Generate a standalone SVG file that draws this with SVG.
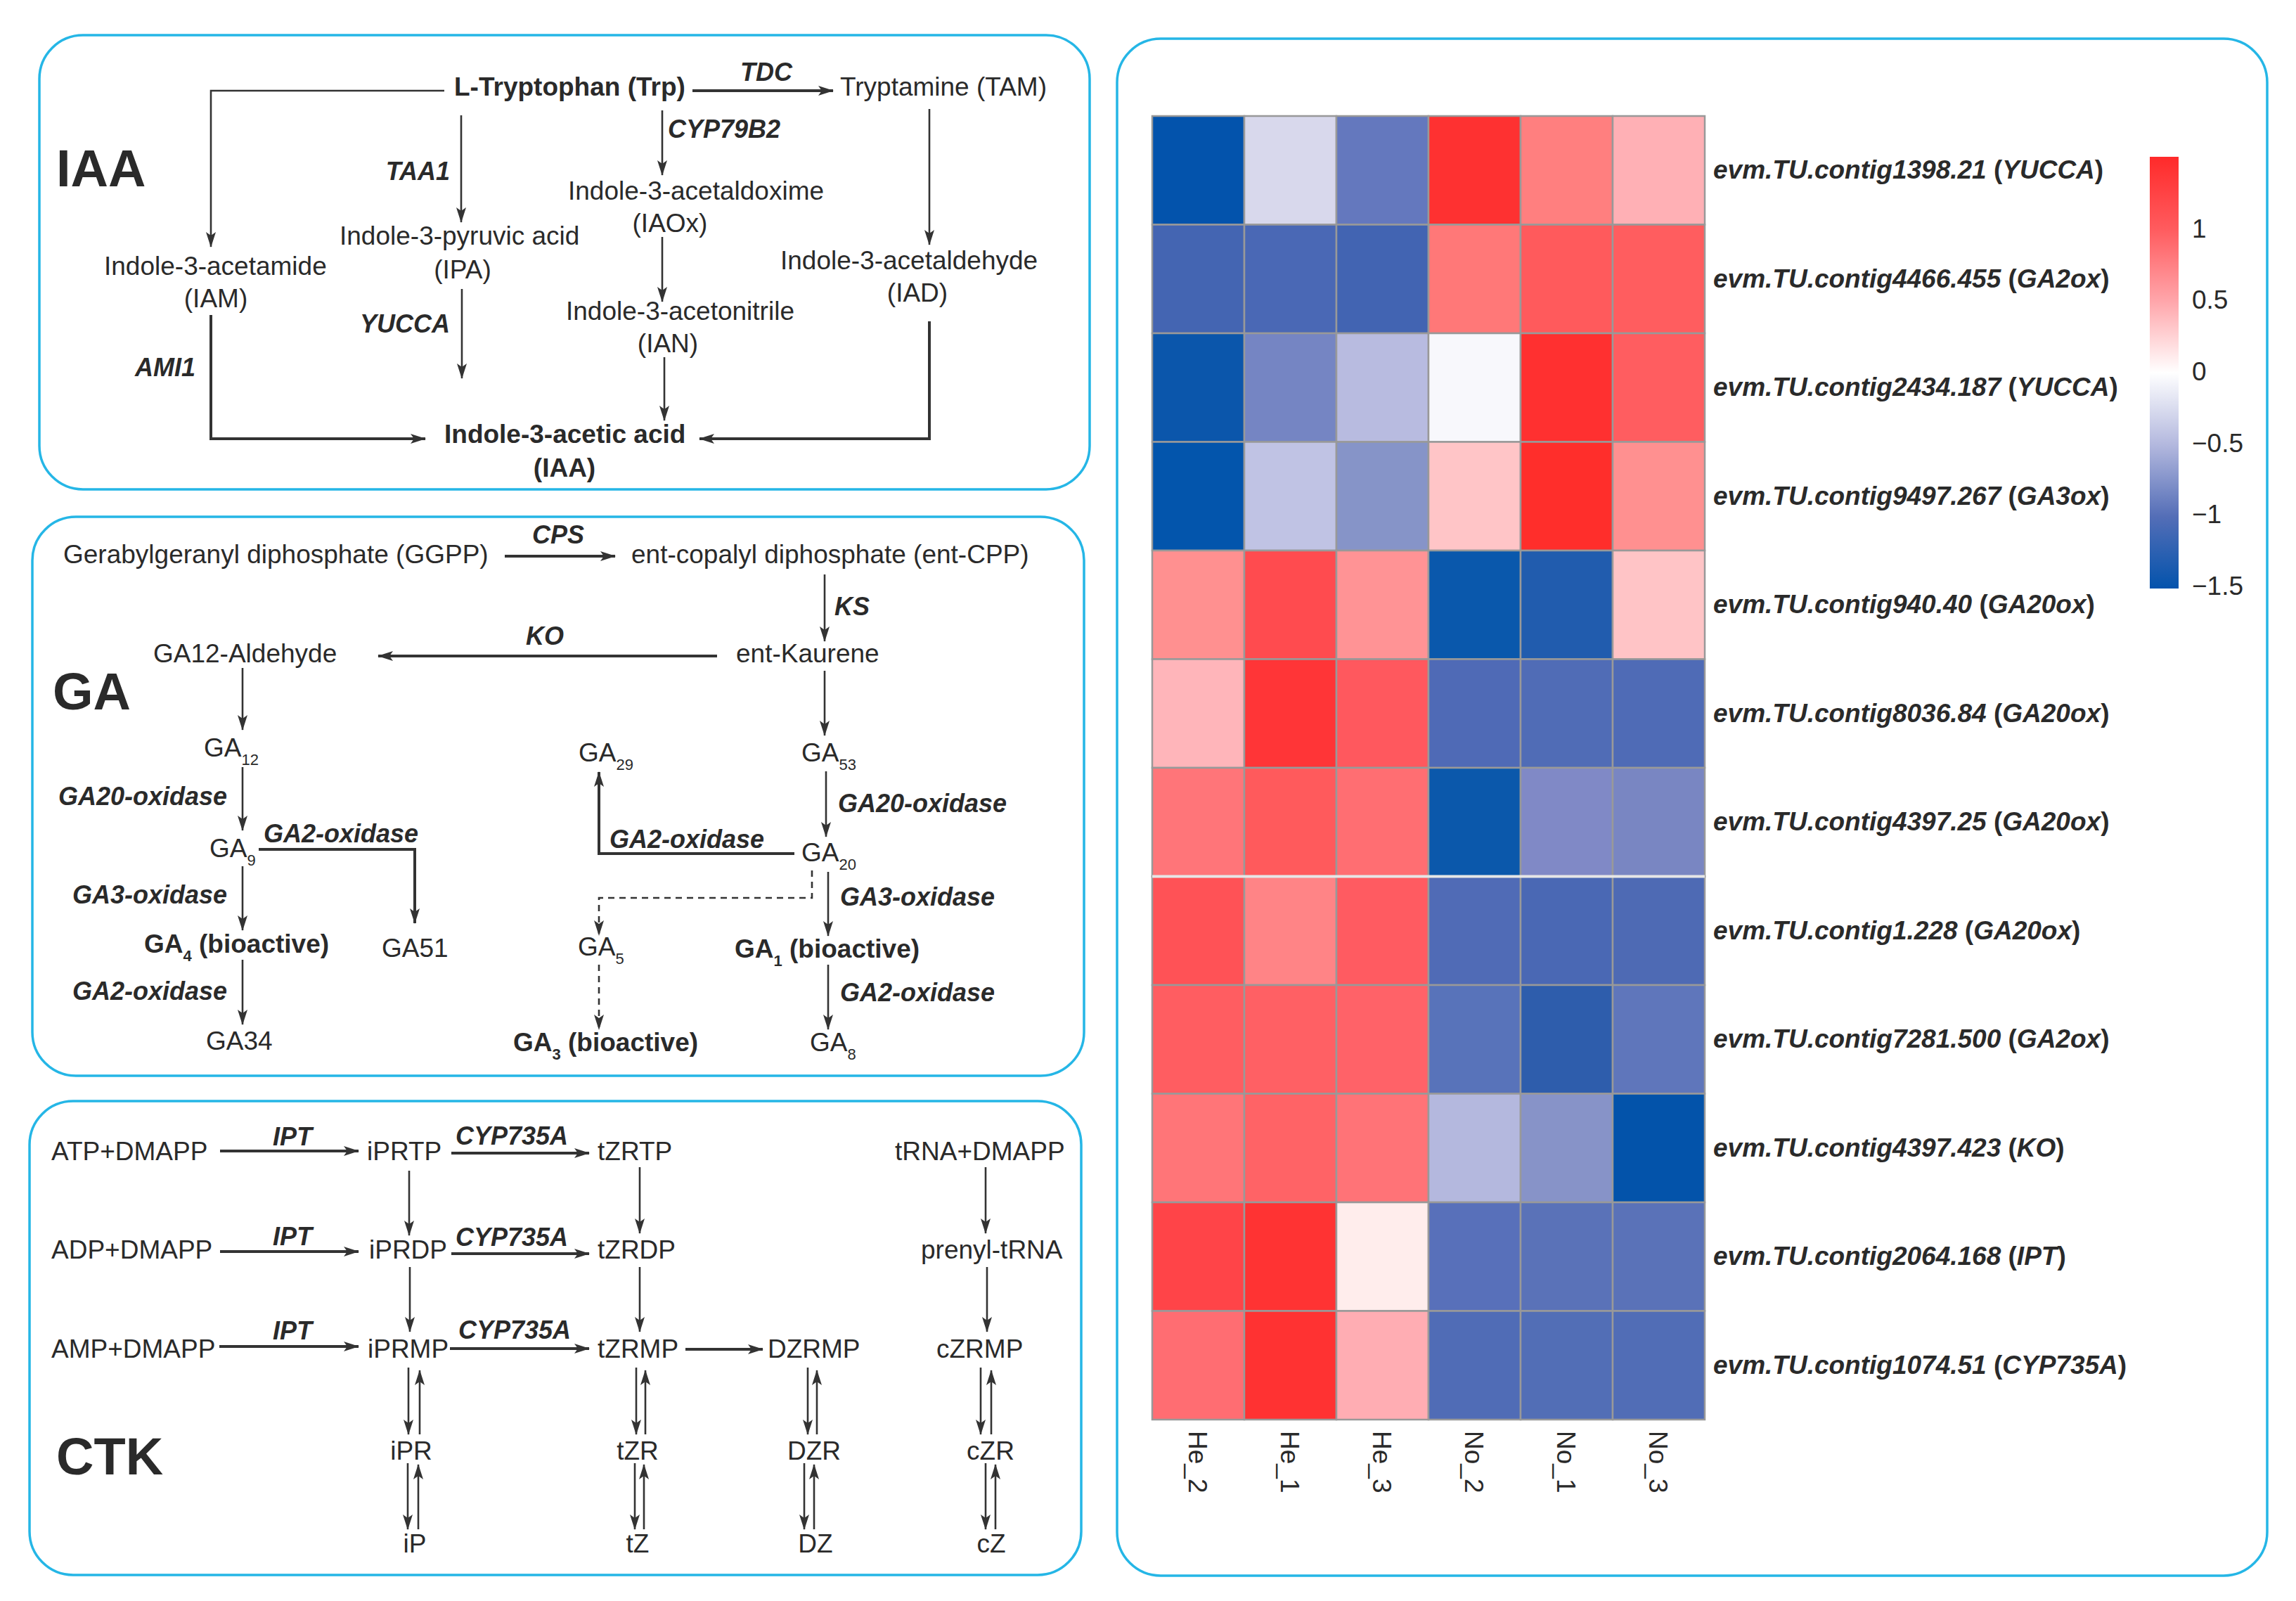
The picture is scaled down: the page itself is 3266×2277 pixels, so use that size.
<svg xmlns="http://www.w3.org/2000/svg" width="3266" height="2277" viewBox="0 0 3266 2277">
<style>
.t{font-family:"Liberation Sans",Arial,sans-serif;font-size:37px;fill:#2a2a2a}
.b{font-weight:bold}
.e{font-weight:bold;font-style:italic;font-size:36px}
.big{font-weight:bold;font-size:74px}
.s{font-size:22px}
.ln{stroke:#333;stroke-width:2.6;fill:none}
.th{stroke-width:4}
.dash{stroke-dasharray:9 7}
.panel{fill:#fff;stroke:#25b6e6;stroke-width:3.5}
.cell{stroke:#999;stroke-width:2.5}
.mid{text-anchor:middle}
.end{text-anchor:end}
.rl{font-family:"Liberation Sans",Arial,sans-serif;font-size:37px;font-weight:bold;font-style:italic;fill:#2a2a2a}
</style>
<defs>
<marker id="ah" markerUnits="userSpaceOnUse" markerWidth="22" markerHeight="14" refX="21" refY="7" orient="auto"><path d="M0,0 L22,7 L0,14 L5,7 z" fill="#333"/></marker>
<linearGradient id="cb" x1="0" y1="0" x2="0" y2="1">
<stop offset="0" stop-color="#ff2a2a"/>
<stop offset="0.167" stop-color="#ff5b5e"/>
<stop offset="0.333" stop-color="#ffa5aa"/>
<stop offset="0.5" stop-color="#ffffff"/>
<stop offset="0.667" stop-color="#b3b8de"/>
<stop offset="0.833" stop-color="#546eb7"/>
<stop offset="1" stop-color="#0353ac"/>
</linearGradient>
</defs>
<rect width="3266" height="2277" fill="#fff"/>

<!-- Panels -->
<g id="panel-iaa"><rect class="panel" x="56" y="50" width="1494" height="646" rx="62"/><text class="t big" x="80" y="265">IAA</text></g>
<g id="panel-ga"><rect class="panel" x="46" y="735" width="1496" height="795" rx="62"/><text class="t big" x="75" y="1009">GA</text></g>
<g id="panel-ctk"><rect class="panel" x="42" y="1566" width="1496" height="674" rx="62"/><text class="t big" x="80" y="2097">CTK</text></g>
<g id="panel-heatmap"><rect class="panel" x="1589" y="55" width="1636" height="2186" rx="62"/></g>

<!-- IAA nodes -->
<g id="iaa-trp"><text class="t b" x="646" y="136">L-Tryptophan (Trp)</text></g>
<g id="iaa-tam"><text class="t" x="1195" y="136">Tryptamine (TAM)</text></g>
<g id="iaa-iam"><text class="t" x="148" y="391">Indole-3-acetamide</text><text class="t mid" x="307" y="437">(IAM)</text></g>
<g id="iaa-ipa"><text class="t" x="483" y="348">Indole-3-pyruvic acid</text><text class="t mid" x="658" y="396">(IPA)</text></g>
<g id="iaa-iaox"><text class="t" x="808" y="284">Indole-3-acetaldoxime</text><text class="t mid" x="953" y="330">(IAOx)</text></g>
<g id="iaa-ian"><text class="t" x="805" y="455">Indole-3-acetonitrile</text><text class="t mid" x="950" y="501">(IAN)</text></g>
<g id="iaa-iad"><text class="t" x="1110" y="383">Indole-3-acetaldehyde</text><text class="t mid" x="1305" y="429">(IAD)</text></g>
<g id="iaa-iaa"><text class="t b" x="632" y="630">Indole-3-acetic acid</text><text class="t b mid" x="803" y="678">(IAA)</text></g>

<!-- GA nodes -->
<g id="ga-ggpp"><text class="t" x="90" y="801">Gerabylgeranyl diphosphate (GGPP)</text></g>
<g id="ga-cpp"><text class="t" x="898" y="801">ent-copalyl diphosphate (ent-CPP)</text></g>
<g id="ga-kaurene"><text class="t" x="1047" y="942">ent-Kaurene</text></g>
<g id="ga-ald"><text class="t" x="218" y="942">GA12-Aldehyde</text></g>
<g id="ga-12"><text class="t" x="290" y="1076">GA<tspan class="s" dy="12">12</tspan></text></g>
<g id="ga-9"><text class="t" x="298" y="1219">GA<tspan class="s" dy="12">9</tspan></text></g>
<g id="ga-51"><text class="t" x="543" y="1361">GA51</text></g>
<g id="ga-4"><text class="t b" x="205" y="1355">GA<tspan class="s" dy="12">4</tspan><tspan dy="-12"> (bioactive)</tspan></text></g>
<g id="ga-34"><text class="t" x="293" y="1493">GA34</text></g>
<g id="ga-53"><text class="t" x="1140" y="1083">GA<tspan class="s" dy="12">53</tspan></text></g>
<g id="ga-29"><text class="t" x="823" y="1083">GA<tspan class="s" dy="12">29</tspan></text></g>
<g id="ga-20"><text class="t" x="1140" y="1225">GA<tspan class="s" dy="12">20</tspan></text></g>
<g id="ga-1"><text class="t b" x="1045" y="1362">GA<tspan class="s" dy="12">1</tspan><tspan dy="-12"> (bioactive)</tspan></text></g>
<g id="ga-5"><text class="t" x="822" y="1359">GA<tspan class="s" dy="12">5</tspan></text></g>
<g id="ga-3"><text class="t b" x="730" y="1495">GA<tspan class="s" dy="12">3</tspan><tspan dy="-12"> (bioactive)</tspan></text></g>
<g id="ga-8"><text class="t" x="1152" y="1495">GA<tspan class="s" dy="12">8</tspan></text></g>

<!-- CTK nodes -->
<g id="ctk-atp"><text class="t" x="73" y="1650">ATP+DMAPP</text></g>
<g id="ctk-iprtp"><text class="t" x="522" y="1650">iPRTP</text></g>
<g id="ctk-tzrtp"><text class="t" x="850" y="1650">tZRTP</text></g>
<g id="ctk-trna"><text class="t" x="1273" y="1650">tRNA+DMAPP</text></g>
<g id="ctk-adp"><text class="t" x="73" y="1790">ADP+DMAPP</text></g>
<g id="ctk-iprdp"><text class="t" x="525" y="1790">iPRDP</text></g>
<g id="ctk-tzrdp"><text class="t" x="850" y="1790">tZRDP</text></g>
<g id="ctk-prenyl"><text class="t" x="1310" y="1790">prenyl-tRNA</text></g>
<g id="ctk-amp"><text class="t" x="73" y="1931">AMP+DMAPP</text></g>
<g id="ctk-iprmp"><text class="t" x="523" y="1931">iPRMP</text></g>
<g id="ctk-tzrmp"><text class="t" x="850" y="1931">tZRMP</text></g>
<g id="ctk-dzrmp"><text class="t" x="1092" y="1931">DZRMP</text></g>
<g id="ctk-czrmp"><text class="t" x="1332" y="1931">cZRMP</text></g>
<g id="ctk-ipr"><text class="t mid" x="585" y="2076">iPR</text></g>
<g id="ctk-tzr"><text class="t mid" x="907" y="2076">tZR</text></g>
<g id="ctk-dzr"><text class="t mid" x="1158" y="2076">DZR</text></g>
<g id="ctk-czr"><text class="t mid" x="1409" y="2076">cZR</text></g>
<g id="ctk-ip"><text class="t mid" x="590" y="2208">iP</text></g>
<g id="ctk-tz"><text class="t mid" x="907" y="2208">tZ</text></g>
<g id="ctk-dz"><text class="t mid" x="1160" y="2208">DZ</text></g>
<g id="ctk-cz"><text class="t mid" x="1410" y="2208">cZ</text></g>

<!-- Connectors -->
<g id="connectors">
<!-- IAA -->
<line class="ln th" x1="985" y1="129" x2="1185" y2="129" marker-end="url(#ah)"/>
<polyline class="ln" points="632,129 300,129 300,351" marker-end="url(#ah)"/>
<line class="ln" x1="656" y1="164" x2="656" y2="316" marker-end="url(#ah)"/>
<line class="ln" x1="657" y1="411" x2="657" y2="538" marker-end="url(#ah)"/>
<line class="ln" x1="942" y1="157" x2="942" y2="249" marker-end="url(#ah)"/>
<line class="ln" x1="942" y1="337" x2="942" y2="429" marker-end="url(#ah)"/>
<line class="ln" x1="945" y1="508" x2="945" y2="598" marker-end="url(#ah)"/>
<line class="ln" x1="1322" y1="155" x2="1322" y2="348" marker-end="url(#ah)"/>
<polyline class="ln th" points="1322,457 1322,624 995,624" marker-end="url(#ah)"/>
<polyline class="ln th" points="300,448 300,624 605,624" marker-end="url(#ah)"/>
<!-- GA -->
<line class="ln th" x1="718" y1="791" x2="875" y2="791" marker-end="url(#ah)"/>
<line class="ln" x1="1173" y1="817" x2="1173" y2="912" marker-end="url(#ah)"/>
<line class="ln th" x1="1020" y1="933" x2="538" y2="933" marker-end="url(#ah)"/>
<line class="ln" x1="345" y1="950" x2="345" y2="1038" marker-end="url(#ah)"/>
<line class="ln" x1="345" y1="1091" x2="345" y2="1181" marker-end="url(#ah)"/>
<polyline class="ln th" points="368,1208 590,1208 590,1313" marker-end="url(#ah)"/>
<line class="ln" x1="345" y1="1232" x2="345" y2="1323" marker-end="url(#ah)"/>
<line class="ln" x1="345" y1="1365" x2="345" y2="1457" marker-end="url(#ah)"/>
<line class="ln" x1="1173" y1="954" x2="1173" y2="1046" marker-end="url(#ah)"/>
<line class="ln" x1="1175" y1="1097" x2="1175" y2="1190" marker-end="url(#ah)"/>
<polyline class="ln th" points="1130,1214 852,1214 852,1098" marker-end="url(#ah)"/>
<polyline class="ln dash" points="1155,1238 1155,1277 852,1277 852,1330" marker-end="url(#ah)"/>
<line class="ln" x1="1178" y1="1240" x2="1178" y2="1331" marker-end="url(#ah)"/>
<line class="ln dash" x1="852" y1="1372" x2="852" y2="1464" marker-end="url(#ah)"/>
<line class="ln" x1="1178" y1="1372" x2="1178" y2="1464" marker-end="url(#ah)"/>
<!-- CTK horizontals -->
<line class="ln th" x1="313" y1="1637" x2="510" y2="1637" marker-end="url(#ah)"/>
<line class="ln th" x1="642" y1="1640" x2="838" y2="1640" marker-end="url(#ah)"/>
<line class="ln th" x1="313" y1="1780" x2="510" y2="1780" marker-end="url(#ah)"/>
<line class="ln th" x1="642" y1="1783" x2="838" y2="1783" marker-end="url(#ah)"/>
<line class="ln th" x1="312" y1="1915" x2="510" y2="1915" marker-end="url(#ah)"/>
<line class="ln th" x1="640" y1="1918" x2="838" y2="1918" marker-end="url(#ah)"/>
<line class="ln th" x1="975" y1="1919" x2="1085" y2="1919" marker-end="url(#ah)"/>
<!-- CTK verticals -->
<line class="ln" x1="582" y1="1665" x2="582" y2="1757" marker-end="url(#ah)"/>
<line class="ln" x1="910" y1="1660" x2="910" y2="1754" marker-end="url(#ah)"/>
<line class="ln" x1="1402" y1="1660" x2="1402" y2="1754" marker-end="url(#ah)"/>
<line class="ln" x1="583" y1="1802" x2="583" y2="1894" marker-end="url(#ah)"/>
<line class="ln" x1="910" y1="1802" x2="910" y2="1894" marker-end="url(#ah)"/>
<line class="ln" x1="1404" y1="1802" x2="1404" y2="1894" marker-end="url(#ah)"/>
<!-- CTK reversible pairs -->
<line class="ln" x1="581" y1="1945" x2="581" y2="2040" marker-end="url(#ah)"/>
<line class="ln" x1="597" y1="2040" x2="597" y2="1949" marker-end="url(#ah)"/>
<line class="ln" x1="580" y1="2081" x2="580" y2="2175" marker-end="url(#ah)"/>
<line class="ln" x1="595" y1="2175" x2="595" y2="2083" marker-end="url(#ah)"/>
<line class="ln" x1="905" y1="1945" x2="905" y2="2040" marker-end="url(#ah)"/>
<line class="ln" x1="918" y1="2040" x2="918" y2="1949" marker-end="url(#ah)"/>
<line class="ln" x1="903" y1="2081" x2="903" y2="2175" marker-end="url(#ah)"/>
<line class="ln" x1="916" y1="2175" x2="916" y2="2083" marker-end="url(#ah)"/>
<line class="ln" x1="1149" y1="1945" x2="1149" y2="2040" marker-end="url(#ah)"/>
<line class="ln" x1="1162" y1="2040" x2="1162" y2="1949" marker-end="url(#ah)"/>
<line class="ln" x1="1144" y1="2081" x2="1144" y2="2175" marker-end="url(#ah)"/>
<line class="ln" x1="1158" y1="2175" x2="1158" y2="2083" marker-end="url(#ah)"/>
<line class="ln" x1="1395" y1="1945" x2="1395" y2="2040" marker-end="url(#ah)"/>
<line class="ln" x1="1410" y1="2040" x2="1410" y2="1949" marker-end="url(#ah)"/>
<line class="ln" x1="1402" y1="2081" x2="1402" y2="2175" marker-end="url(#ah)"/>
<line class="ln" x1="1416" y1="2175" x2="1416" y2="2083" marker-end="url(#ah)"/>
</g>

<!-- Enzyme labels -->
<g id="enzyme-labels">
<text class="t e" x="1053" y="115">TDC</text>
<text class="t e end" x="640" y="256">TAA1</text>
<text class="t e end" x="640" y="473">YUCCA</text>
<text class="t e" x="950" y="196">CYP79B2</text>
<text class="t e end" x="278" y="535">AMI1</text>
<text class="t e" x="757" y="773">CPS</text>
<text class="t e" x="1187" y="875">KS</text>
<text class="t e" x="748" y="917">KO</text>
<text class="t e" x="83" y="1145">GA20-oxidase</text>
<text class="t e" x="375" y="1198">GA2-oxidase</text>
<text class="t e" x="103" y="1285">GA3-oxidase</text>
<text class="t e" x="103" y="1422">GA2-oxidase</text>
<text class="t e" x="1192" y="1155">GA20-oxidase</text>
<text class="t e" x="867" y="1206">GA2-oxidase</text>
<text class="t e" x="1195" y="1288">GA3-oxidase</text>
<text class="t e" x="1195" y="1424">GA2-oxidase</text>
<text class="t e" x="388" y="1629">IPT</text>
<text class="t e" x="648" y="1628">CYP735A</text>
<text class="t e" x="388" y="1771">IPT</text>
<text class="t e" x="648" y="1772">CYP735A</text>
<text class="t e" x="388" y="1905">IPT</text>
<text class="t e" x="652" y="1904">CYP735A</text>
</g>

<!-- Heatmap -->
<g id="heatmap">
<g class="cell">
<rect x="1639" y="165" width="131" height="154.5" fill="#0353ac"/><rect x="1770" y="165" width="131" height="154.5" fill="#d8d8ec"/><rect x="1901" y="165" width="131" height="154.5" fill="#6478be"/><rect x="2032" y="165" width="131" height="154.5" fill="#fe3131"/><rect x="2163" y="165" width="131" height="154.5" fill="#ff7f7f"/><rect x="2294" y="165" width="131" height="154.5" fill="#ffb0b5"/>
<rect x="1639" y="319.5" width="131" height="154.5" fill="#4465b2"/><rect x="1770" y="319.5" width="131" height="154.5" fill="#4a68b5"/><rect x="1901" y="319.5" width="131" height="154.5" fill="#4264b2"/><rect x="2032" y="319.5" width="131" height="154.5" fill="#ff7878"/><rect x="2163" y="319.5" width="131" height="154.5" fill="#ff5a5c"/><rect x="2294" y="319.5" width="131" height="154.5" fill="#ff5d5f"/>
<rect x="1639" y="474" width="131" height="154.5" fill="#0b56ab"/><rect x="1770" y="474" width="131" height="154.5" fill="#7585c3"/><rect x="1901" y="474" width="131" height="154.5" fill="#b8bbe0"/><rect x="2032" y="474" width="131" height="154.5" fill="#f8f8fc"/><rect x="2163" y="474" width="131" height="154.5" fill="#ff3030"/><rect x="2294" y="474" width="131" height="154.5" fill="#ff5d60"/>
<rect x="1639" y="628.5" width="131" height="154.5" fill="#0355ac"/><rect x="1770" y="628.5" width="131" height="154.5" fill="#c0c3e4"/><rect x="1901" y="628.5" width="131" height="154.5" fill="#8694c8"/><rect x="2032" y="628.5" width="131" height="154.5" fill="#ffc5c7"/><rect x="2163" y="628.5" width="131" height="154.5" fill="#ff2e2b"/><rect x="2294" y="628.5" width="131" height="154.5" fill="#ff9090"/>
<rect x="1639" y="783" width="131" height="154.5" fill="#ff9090"/><rect x="1770" y="783" width="131" height="154.5" fill="#ff4b4f"/><rect x="1901" y="783" width="131" height="154.5" fill="#ff9395"/><rect x="2032" y="783" width="131" height="154.5" fill="#0a58ac"/><rect x="2163" y="783" width="131" height="154.5" fill="#215cae"/><rect x="2294" y="783" width="131" height="154.5" fill="#ffc4c6"/>
<rect x="1639" y="937.5" width="131" height="154.5" fill="#ffb5ba"/><rect x="1770" y="937.5" width="131" height="154.5" fill="#ff3537"/><rect x="1901" y="937.5" width="131" height="154.5" fill="#ff585e"/><rect x="2032" y="937.5" width="131" height="154.5" fill="#4f6ab6"/><rect x="2163" y="937.5" width="131" height="154.5" fill="#506cb6"/><rect x="2294" y="937.5" width="131" height="154.5" fill="#4f6bb6"/>
<rect x="1639" y="1092" width="131" height="154.5" fill="#ff7579"/><rect x="1770" y="1092" width="131" height="154.5" fill="#ff5a5c"/><rect x="1901" y="1092" width="131" height="154.5" fill="#ff6e72"/><rect x="2032" y="1092" width="131" height="154.5" fill="#0b58ab"/><rect x="2163" y="1092" width="131" height="154.5" fill="#8089c6"/><rect x="2294" y="1092" width="131" height="154.5" fill="#7986c2"/>
<rect x="1639" y="1246.5" width="131" height="154.5" fill="#ff5256"/><rect x="1770" y="1246.5" width="131" height="154.5" fill="#ff8486"/><rect x="1901" y="1246.5" width="131" height="154.5" fill="#ff5b61"/><rect x="2032" y="1246.5" width="131" height="154.5" fill="#506bb6"/><rect x="2163" y="1246.5" width="131" height="154.5" fill="#4a68b4"/><rect x="2294" y="1246.5" width="131" height="154.5" fill="#4e6ab4"/>
<rect x="1639" y="1401" width="131" height="154.5" fill="#ff5d61"/><rect x="1770" y="1401" width="131" height="154.5" fill="#ff6064"/><rect x="1901" y="1401" width="131" height="154.5" fill="#ff6268"/><rect x="2032" y="1401" width="131" height="154.5" fill="#5873ba"/><rect x="2163" y="1401" width="131" height="154.5" fill="#2e5dac"/><rect x="2294" y="1401" width="131" height="154.5" fill="#5f76bb"/>
<rect x="1639" y="1555.5" width="131" height="154.5" fill="#ff7578"/><rect x="1770" y="1555.5" width="131" height="154.5" fill="#ff6366"/><rect x="1901" y="1555.5" width="131" height="154.5" fill="#ff7377"/><rect x="2032" y="1555.5" width="131" height="154.5" fill="#b4b8de"/><rect x="2163" y="1555.5" width="131" height="154.5" fill="#8793c8"/><rect x="2294" y="1555.5" width="131" height="154.5" fill="#0353aa"/>
<rect x="1639" y="1710" width="131" height="154.5" fill="#ff4448"/><rect x="1770" y="1710" width="131" height="154.5" fill="#ff3333"/><rect x="1901" y="1710" width="131" height="154.5" fill="#ffedec"/><rect x="2032" y="1710" width="131" height="154.5" fill="#5870ba"/><rect x="2163" y="1710" width="131" height="154.5" fill="#5a72b8"/><rect x="2294" y="1710" width="131" height="154.5" fill="#5a72b8"/>
<rect x="1639" y="1864.5" width="131" height="154.5" fill="#ff6d72"/><rect x="1770" y="1864.5" width="131" height="154.5" fill="#ff3232"/><rect x="1901" y="1864.5" width="131" height="154.5" fill="#ffadb3"/><rect x="2032" y="1864.5" width="131" height="154.5" fill="#506cb6"/><rect x="2163" y="1864.5" width="131" height="154.5" fill="#526eb6"/><rect x="2294" y="1864.5" width="131" height="154.5" fill="#516db6"/>
</g>
<line x1="1639" y1="1246.5" x2="2425" y2="1246.5" stroke="#e6e6e6" stroke-width="4"/>
</g>

<g id="row-labels">
<text class="rl" x="2437" y="254">evm.TU.contig1398.21 <tspan font-style="normal">(</tspan>YUCCA<tspan font-style="normal">)</tspan></text>
<text class="rl" x="2437" y="409">evm.TU.contig4466.455 <tspan font-style="normal">(</tspan>GA2ox<tspan font-style="normal">)</tspan></text>
<text class="rl" x="2437" y="563">evm.TU.contig2434.187 <tspan font-style="normal">(</tspan>YUCCA<tspan font-style="normal">)</tspan></text>
<text class="rl" x="2437" y="718">evm.TU.contig9497.267 <tspan font-style="normal">(</tspan>GA3ox<tspan font-style="normal">)</tspan></text>
<text class="rl" x="2437" y="872">evm.TU.contig940.40 <tspan font-style="normal">(</tspan>GA20ox<tspan font-style="normal">)</tspan></text>
<text class="rl" x="2437" y="1027">evm.TU.contig8036.84 <tspan font-style="normal">(</tspan>GA20ox<tspan font-style="normal">)</tspan></text>
<text class="rl" x="2437" y="1181">evm.TU.contig4397.25 <tspan font-style="normal">(</tspan>GA20ox<tspan font-style="normal">)</tspan></text>
<text class="rl" x="2437" y="1336">evm.TU.contig1.228 <tspan font-style="normal">(</tspan>GA20ox<tspan font-style="normal">)</tspan></text>
<text class="rl" x="2437" y="1490">evm.TU.contig7281.500 <tspan font-style="normal">(</tspan>GA2ox<tspan font-style="normal">)</tspan></text>
<text class="rl" x="2437" y="1645">evm.TU.contig4397.423 <tspan font-style="normal">(</tspan>KO<tspan font-style="normal">)</tspan></text>
<text class="rl" x="2437" y="1799">evm.TU.contig2064.168 <tspan font-style="normal">(</tspan>IPT<tspan font-style="normal">)</tspan></text>
<text class="rl" x="2437" y="1954">evm.TU.contig1074.51 <tspan font-style="normal">(</tspan>CYP735A<tspan font-style="normal">)</tspan></text>
</g>

<g id="col-labels">
<text class="t" font-size="38" transform="translate(1691,2035) rotate(90)">He_2</text>
<text class="t" font-size="38" transform="translate(1822,2035) rotate(90)">He_1</text>
<text class="t" font-size="38" transform="translate(1953,2035) rotate(90)">He_3</text>
<text class="t" font-size="38" transform="translate(2084,2035) rotate(90)">No_2</text>
<text class="t" font-size="38" transform="translate(2215,2035) rotate(90)">No_1</text>
<text class="t" font-size="38" transform="translate(2346,2035) rotate(90)">No_3</text>
</g>

<g id="color-legend">
<rect x="3058" y="223" width="41" height="614" fill="url(#cb)"/>
<text class="t" font-size="38" x="3118" y="338">1</text>
<text class="t" font-size="38" x="3118" y="439">0.5</text>
<text class="t" font-size="38" x="3118" y="541">0</text>
<text class="t" font-size="38" x="3118" y="643">−0.5</text>
<text class="t" font-size="38" x="3118" y="744">−1</text>
<text class="t" font-size="38" x="3118" y="846">−1.5</text>
</g>
</svg>
